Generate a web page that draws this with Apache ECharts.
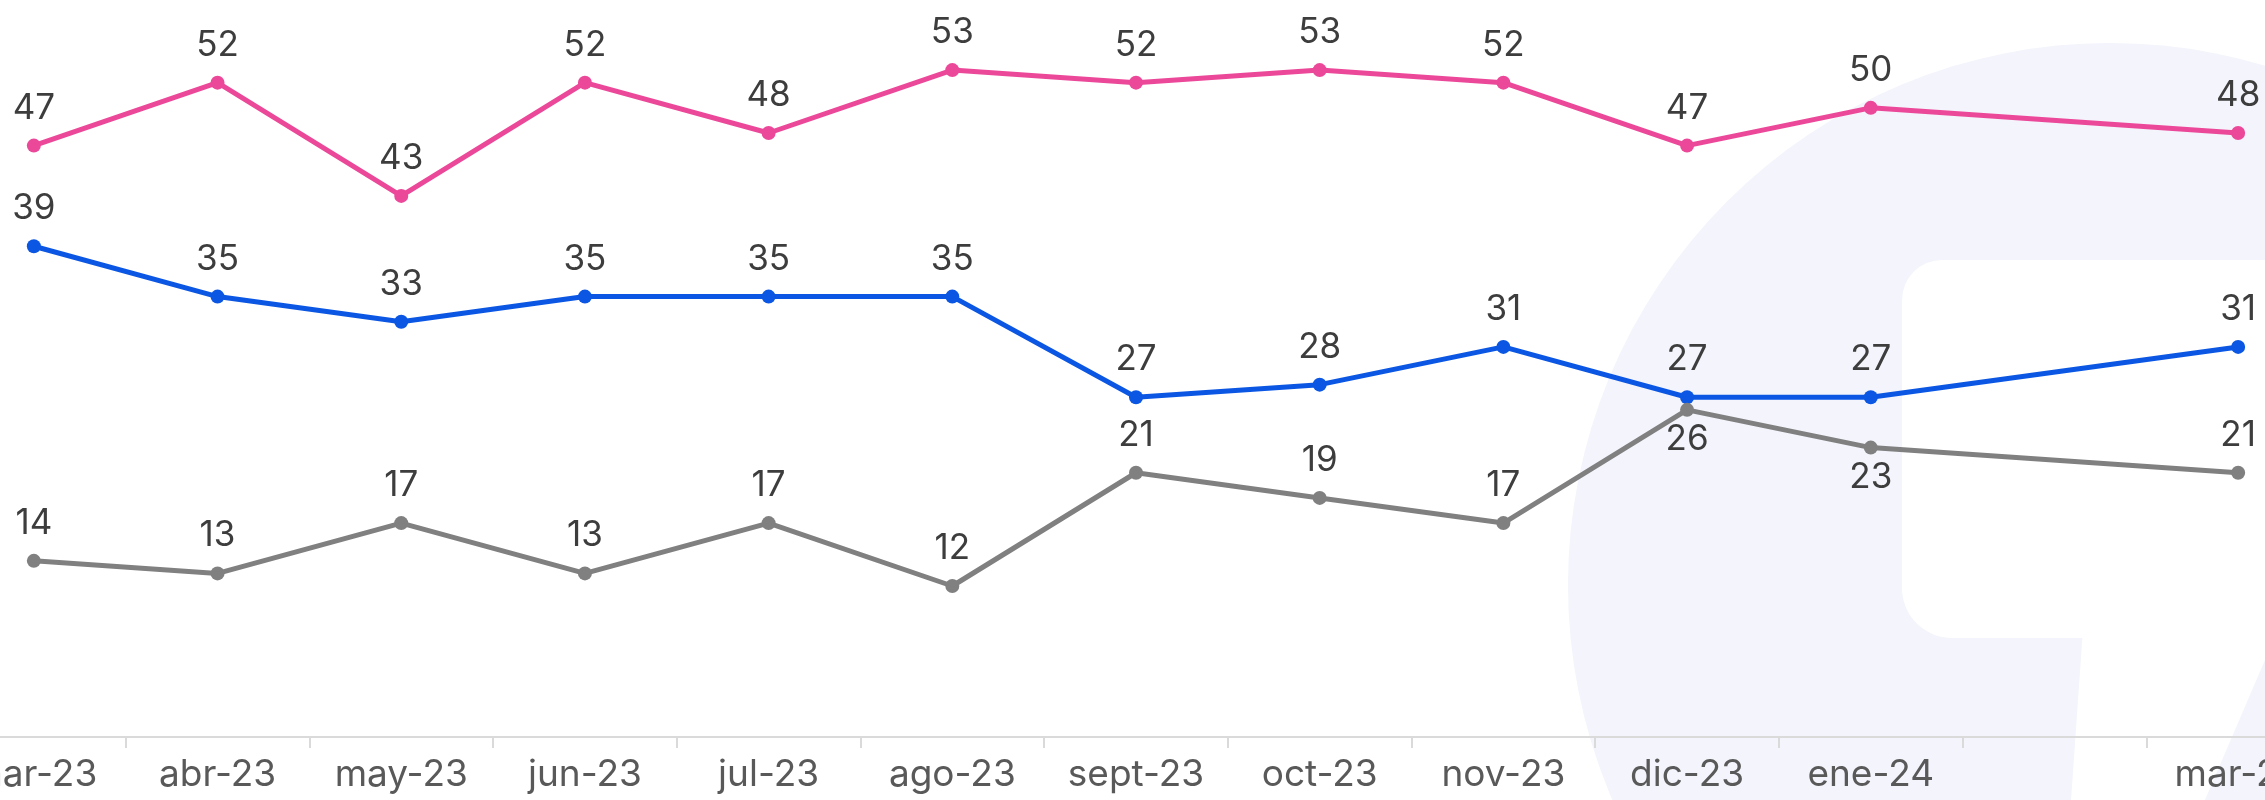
<!DOCTYPE html>
<html>
<head>
<meta charset="utf-8">
<script src="https://cdn.jsdelivr.net/npm/echarts@6/dist/echarts.min.js"></script>
<style>
  html, body { margin: 0; padding: 0; background: #fff; }
  #chart { width: 2265px; height: 800px; }
</style>
</head>
<body>
<div id="chart"></div>
<script>
// meses (feb-24 no tiene dato ni etiqueta)
var meses = ['mar-23', 'abr-23', 'may-23', 'jun-23', 'jul-23', 'ago-23', 'sept-23', 'oct-23', 'nov-23', 'dic-23', 'ene-24', '', 'mar-24'];
var serieRosa = [47, 52, 43, 52, 48, 53, 52, 53, 52, 47, 50, null, 48];
var serieAzul = [39, 35, 33, 35, 35, 35, 27, 28, 31, 27, 27, null, 31];
var serieGris = [14, 13, 17, 13, 17, 12, 21, 19, 17, 26, 23, null, 21];
// indices de la serie gris con etiqueta debajo
var grisAbajo = [9, 10];

var fuente = 'Inter, Roboto, sans-serif';

function conEtiquetas(valores, abajo) {
    var out = [];
    for (var i = 0; i < valores.length; i++) {
        if (abajo && abajo.indexOf(i) >= 0) {
            out.push({ value: valores[i], label: { position: 'bottom', distance: 5 } });
        } else {
            out.push(valores[i]);
        }
    }
    return out;
}

function linea(nombre, color, valores, abajo) {
    return {
        name: nombre,
        type: 'line',
        data: conEtiquetas(valores, abajo),
        connectNulls: true,
        symbol: 'circle',
        symbolSize: 14,
        lineStyle: { color: color, width: 5 },
        itemStyle: { color: color },
        label: {
            show: true,
            position: 'top',
            distance: 13,
            color: '#3d3d3d',
            fontFamily: fuente,
            fontSize: 35
        },
        animation: false
    };
}

var myChart = echarts.init(document.getElementById('chart'));

var lavanda = '#f3f4fc';

var option = {
    backgroundColor: '#ffffff',
    // logo de fondo
    graphic: [
        { type: 'circle', z: -10, shape: { cx: 2110, cy: 585, r: 542 }, style: { fill: lavanda } },
        { type: 'rect', z: -9, shape: { x: 1902, y: 260, width: 420, height: 378, r: [40, 40, 0, 50] }, style: { fill: '#ffffff' } },
        { type: 'polygon', z: -9, shape: { points: [[2085, 600], [2265, 600], [2265, 660], [2205, 800], [2071, 800]] }, style: { fill: '#ffffff' } }
    ],
    grid: {
        left: -58,
        right: -65,
        top: -18,
        bottom: 63,
        containLabel: false,
        outerBoundsMode: 'none'
    },
    xAxis: {
        type: 'category',
        data: meses,
        boundaryGap: true,
        axisLine: { lineStyle: { color: '#dadada', width: 2 } },
        axisTick: { show: true, length: 11, lineStyle: { color: '#dadada', width: 2 } },
        axisLabel: {
            interval: 0,
            margin: 19,
            color: '#595959',
            fontFamily: fuente,
            fontSize: 37
        }
    },
    yAxis: {
        type: 'value',
        min: 0,
        max: 60,
        show: false,
        splitLine: { show: false }
    },
    series: [
        linea('rosa', '#ec4899', serieRosa),
        linea('azul', '#0b57e3', serieAzul),
        linea('gris', '#808080', serieGris, grisAbajo)
    ]
};

myChart.setOption(option);
</script>
</body>
</html>
